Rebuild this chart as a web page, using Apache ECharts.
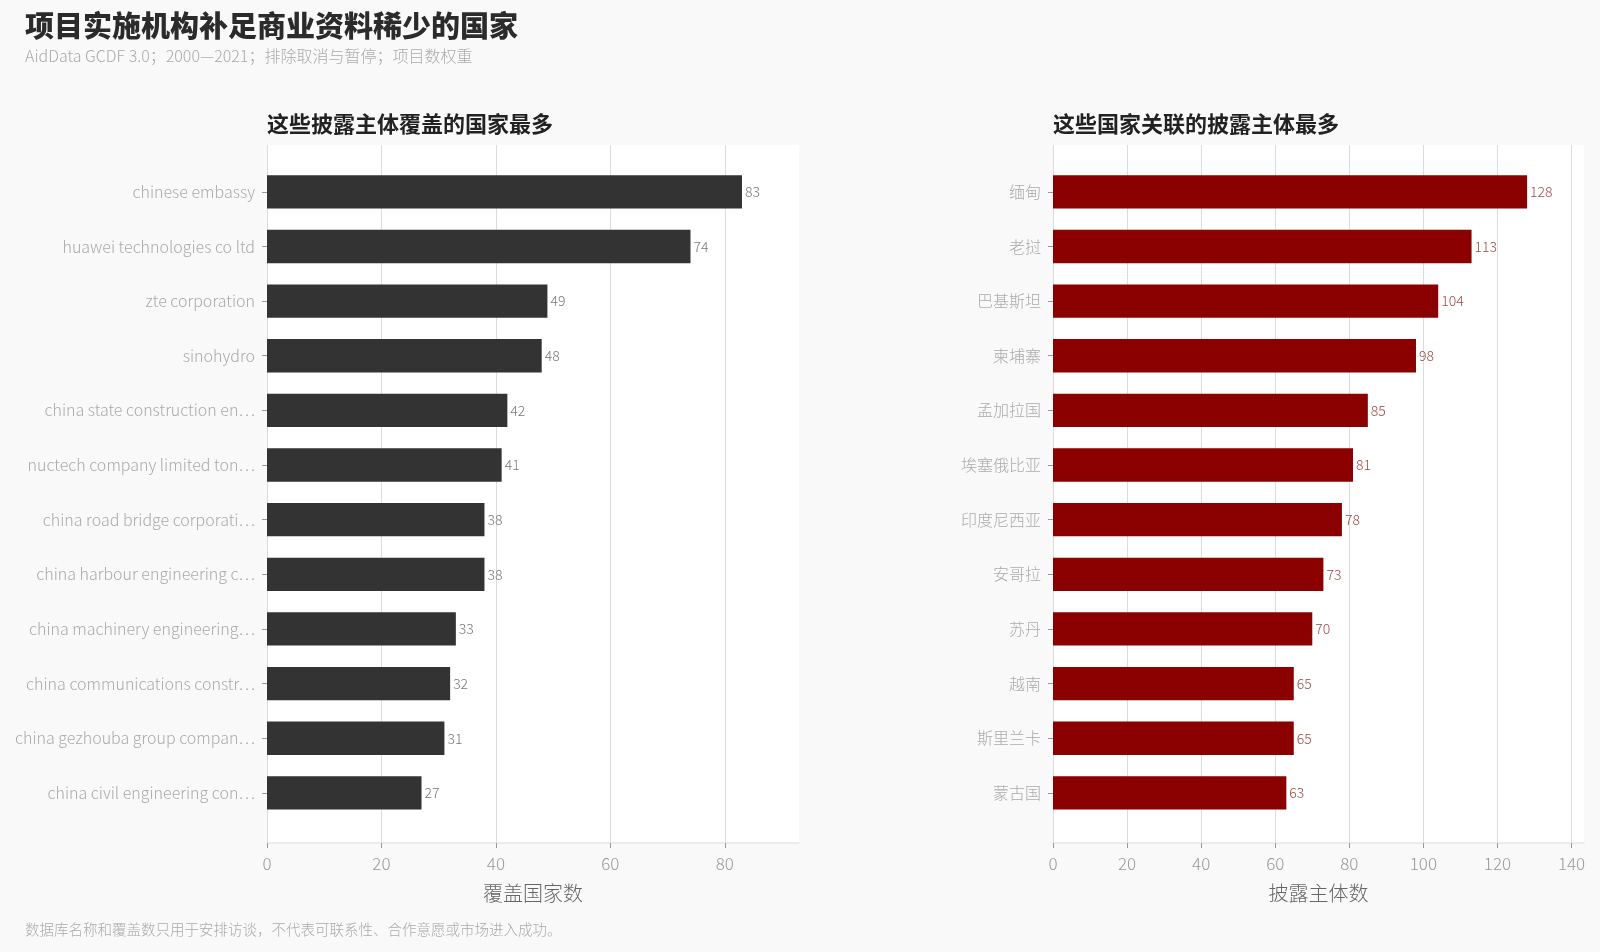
<!DOCTYPE html>
<html>
<head>
<meta charset="utf-8">
<script src="https://cdn.jsdelivr.net/npm/echarts@6/dist/echarts.min.js"></script>
<style>
  html, body { margin: 0; padding: 0; background: #f9f9f9; }
  #main { width: 1600px; height: 952px; }
</style>
</head>
<body>
<div id="main"></div>
<script>
    'use strict';

    var FONT = '"Noto Sans CJK SC", "Noto Sans", sans-serif';

    // 左图：披露主体及其覆盖的国家数
    var entities = [
        'chinese embassy',
        'huawei technologies co ltd',
        'zte corporation',
        'sinohydro',
        'china state construction engineering corporation',
        'nuctech company limited tongfang weishi',
        'china road bridge corporation',
        'china harbour engineering company',
        'china machinery engineering corporation',
        'china communications construction company',
        'china gezhouba group company limited',
        'china civil engineering construction corporation'
    ];
    var countryCounts = [83, 74, 49, 48, 42, 41, 38, 38, 33, 32, 31, 27];

    // 右图：国家及其关联的披露主体数
    var countries = ['缅甸', '老挝', '巴基斯坦', '柬埔寨', '孟加拉国', '埃塞俄比亚',
        '印度尼西亚', '安哥拉', '苏丹', '越南', '斯里兰卡', '蒙古国'];
    var entityCounts = [128, 113, 104, 98, 85, 81, 78, 73, 70, 65, 65, 63];

    function shorten(name) {
        return name.length > 27 ? name.slice(0, 27) + '\u22EF' : name;
    }

    // 外层网格：白底、网格线和数值轴
    function outerX(gridIndex, values, name) {
        return {
            type: 'value',
            gridIndex: gridIndex,
            min: 0,
            max: Math.max.apply(null, values) * 1.12,
            interval: 20,
            name: name,
            nameLocation: 'middle',
            nameGap: 40,
            nameTextStyle: { color: '#666', fontSize: 20, fontFamily: FONT, fontWeight: 300 },
            axisLine: { show: true, lineStyle: { color: '#e6e6e6', width: 1.5 } },
            axisTick: { show: true, length: 5, lineStyle: { color: '#999' } },
            axisLabel: {
                color: '#999', fontSize: 17, fontFamily: FONT, fontWeight: 300,
                margin: 12, showMaxLabel: false
            },
            splitLine: { show: true, showMaxLine: false, lineStyle: { color: '#dcdcdc', width: 1 } }
        };
    }

    // 内层网格：只放柱子，类目轴留出上下空白
    function innerX(gridIndex, values) {
        return {
            type: 'value',
            gridIndex: gridIndex,
            min: 0,
            max: Math.max.apply(null, values) * 1.12,
            show: false
        };
    }

    function innerY(gridIndex, cats, fmt) {
        return {
            type: 'category',
            gridIndex: gridIndex,
            data: cats,
            inverse: true,
            axisLine: { show: false },
            axisTick: { show: true, length: 5, alignWithLabel: true, lineStyle: { color: '#999' } },
            axisLabel: {
                color: '#aaa', fontSize: 16, fontFamily: FONT, fontWeight: 300,
                margin: 12, formatter: fmt
            },
            splitLine: { show: false }
        };
    }

    function barSeries(axisIndex, values, color, labelColor) {
        return {
            type: 'bar',
            xAxisIndex: axisIndex,
            yAxisIndex: axisIndex,
            data: values,
            barWidth: '61%',
            itemStyle: { color: color },
            label: {
                show: true, position: 'right', distance: 3,
                color: labelColor, fontSize: 14, fontFamily: FONT, fontWeight: 300
            }
        };
    }

    var myChart = echarts.init(document.getElementById('main'));

    var option = {
        backgroundColor: '#f9f9f9',
        animation: false,
        title: [{
            text: '项目实施机构补足商业资料稀少的国家',
            left: 25, top: 11, padding: 0,
            textStyle: { color: '#2b2b2b', fontSize: 29, fontWeight: 900, fontFamily: FONT }
        }, {
            text: 'AidData GCDF 3.0；2000—2021；排除取消与暂停；项目数权重',
            left: 25, top: 48, padding: 0,
            textStyle: { color: '#aaa', fontSize: 16, fontWeight: 300, fontFamily: FONT }
        }, {
            text: '这些披露主体覆盖的国家最多',
            left: 267, top: 113, padding: 0,
            textStyle: { color: '#222', fontSize: 22, fontWeight: 'bold', fontFamily: FONT }
        }, {
            text: '这些国家关联的披露主体最多',
            left: 1053, top: 113, padding: 0,
            textStyle: { color: '#222', fontSize: 22, fontWeight: 'bold', fontFamily: FONT }
        }, {
            text: '数据库名称和覆盖数只用于安排访谈，不代表可联系性、合作意愿或市场进入成功。',
            left: 25, top: 922, padding: 0,
            textStyle: { color: '#aaa', fontSize: 14.5, fontWeight: 300, fontFamily: FONT }
        }],
        grid: [
            { left: 267, right: 801, top: 145, bottom: 109, show: true, backgroundColor: '#fff', borderWidth: 0 },
            { left: 267, right: 801, top: 164.5, bottom: 131.8 },
            { left: 1053, right: 16, top: 145, bottom: 109, show: true, backgroundColor: '#fff', borderWidth: 0 },
            { left: 1053, right: 16, top: 164.5, bottom: 131.8 }
        ],
        xAxis: [
            outerX(0, countryCounts, '覆盖国家数'),
            innerX(1, countryCounts),
            outerX(2, entityCounts, '披露主体数'),
            innerX(3, entityCounts)
        ],
        yAxis: [
            { type: 'value', gridIndex: 0, show: false },
            innerY(1, entities, shorten),
            { type: 'value', gridIndex: 2, show: false },
            innerY(3, countries)
        ],
        series: [
            barSeries(1, countryCounts, '#333333', '#777'),
            barSeries(3, entityCounts, '#8b0000', '#a04848')
        ]
    };

    myChart.setOption(option);
</script>
</body>
</html>
